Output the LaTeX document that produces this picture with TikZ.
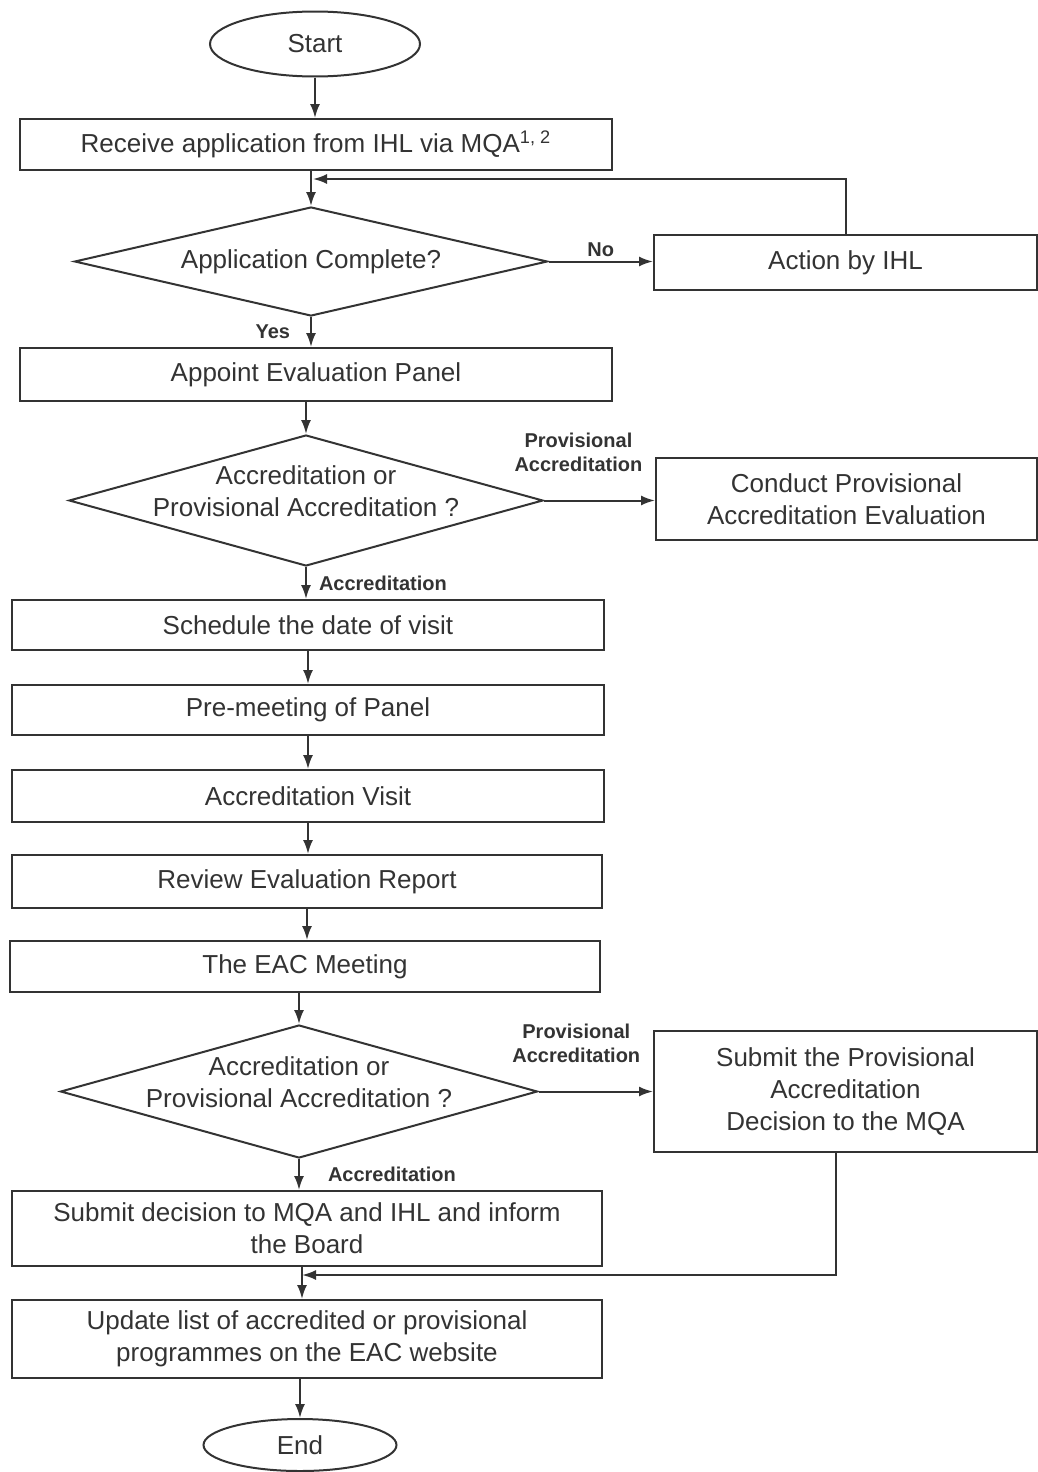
\documentclass[tikz,border=0pt]{standalone}
\usepackage{fontspec}
\setmainfont{Liberation Sans}
\usetikzlibrary{shapes.geometric, arrows.meta}

\tikzset{
	every node/.style = {font=\fontsize{13}{16}\selectfont},
	block/.style = {draw, rectangle, inner sep=0pt, align=center, minimum width=295pt},
	decision/.style = {draw, diamond, inner sep=0pt},
	term/.style = {draw, ellipse, inner sep=0pt},
	lbl/.style = {font=\bfseries\fontsize{10}{12}\selectfont, align=center, inner sep=2pt},
}

\begin{document}
\begin{tikzpicture}[>={Latex[length=7pt,width=5pt]}, x=0.5pt, y=-0.5pt, line width=1pt, color=black!80]
	\useasboundingbox (0,0) rectangle (1038,1472);
	%%%	Main column
	\node[term, minimum width=105pt, minimum height=32.5pt] (start) at (315,44) {Start};
	\node[block, minimum width=296pt, minimum height=25.5pt] (recv) at (316,144.5) {Receive application from IHL via MQA\textsuperscript{1, 2}};
	\node[decision, minimum width=236.5pt, minimum height=54.5pt, label=center:{Application Complete?}] (appl) at (311,261.5) {};
	\node[block, minimum width=296pt, minimum height=26.5pt] (panel) at (316,374.5) {Appoint Evaluation Panel};
	\node[decision, minimum width=237pt, minimum height=65.5pt, label={[yshift=4.5pt, align=center]center:Accreditation or\\Provisional Accreditation ?}] (accA) at (306,500.5) {};
	\node[block, minimum width=296pt, minimum height=25pt] (sched) at (308,625) {Schedule the date of visit};
	\node[block, minimum width=296pt, minimum height=25pt] (premeet) at (308,710) {Pre-meeting of Panel};
	\node[block, minimum width=296pt, minimum height=26pt] (visit) at (308,796) {Accreditation Visit};
	\node[block, minimum height=26.5pt] (review) at (307,881.5) {Review Evaluation Report};
	\node[block, minimum height=25.5pt] (eac) at (305,966.5) {The EAC Meeting};
	\node[decision, minimum width=238.5pt, minimum height=66.5pt, label={[yshift=4.75pt, align=center]center:Accreditation or\\Provisional Accreditation ?}] (accB) at (299,1091.5) {};
	\node[block, minimum height=37.5pt] (subdec) at (307,1228.5) {Submit decision to MQA and IHL and inform\\the Board};
	\node[block, minimum height=39pt] (update) at (307,1339) {Update list of accredited or provisional\\programmes on the EAC website};
	\node[term, minimum width=96.5pt, minimum height=26pt] (end) at (300,1445) {End};
	%%%	Side column
	\node[block, minimum width=191.5pt, minimum height=27.5pt] (ihl) at (845.5,262.5) {Action by IHL};
	\node[block, minimum width=190.5pt, minimum height=41pt] (cpae) at (846.5,499) {Conduct Provisional\\Accreditation Evaluation};
	\node[block, minimum width=191.5pt, minimum height=60.5pt] (spad) at (845.5,1091.5) {Submit the Provisional\\Accreditation\\Decision to the MQA};
	\coordinate (back) at (313,179);
	\coordinate (merge) at (302,1275);
	%%%	Arrows
	\draw[->] (start) -- (start |- recv.north);
	\draw[->] (appl.north |- recv.south) -- (appl.north);
	\draw[->] (ihl.north) |- (back);
	\draw[->] (appl.east) -- (appl.east -| ihl.west) node[lbl, midway, above] {No};
	\draw[->] (appl.south) -- (appl.south |- panel.north) node[lbl, midway, left, xshift=-8pt] {Yes};
	\draw[->] (accA.north |- panel.south) -- (accA.north);
	\draw[->] (accA.east) -- (accA.east -| cpae.west) node[lbl, pos=0.31, above=12pt] {Provisional\\Accreditation};
	\draw[->] (accA.south) -- (accA.south |- sched.north) node[lbl, midway, right, xshift=4pt] {Accreditation};
	\foreach \a/\b in {sched/premeet, premeet/visit, visit/review, review/eac}
		\draw[->] (\a) -- (\a |- \b.north);
	\draw[->] (accB.north |- eac.south) -- (accB.north);
	\draw[->] (accB.east) -- (accB.east -| spad.west) node[lbl, pos=0.33, above=12pt] {Provisional\\Accreditation};
	\draw[->] (accB.south) -- (accB.south |- subdec.north) node[lbl, midway, right, xshift=12pt] {Accreditation};
	\draw[->] ([xshift=-5pt]spad.south) |- (merge);
	\draw[->] (merge |- subdec.south) -- (merge |- update.north);
	\draw[->] (end.north |- update.south) -- (end.north);
\end{tikzpicture}
\end{document}
